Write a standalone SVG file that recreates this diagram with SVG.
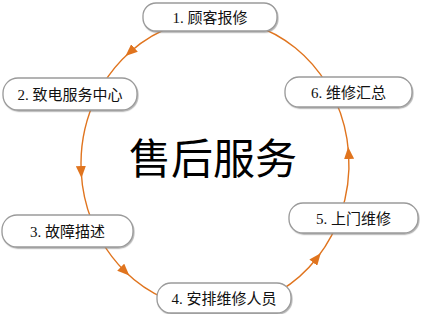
<svg xmlns="http://www.w3.org/2000/svg" width="424" height="314" viewBox="0 0 424 314">
<defs>
<style>
.conn{fill:none;stroke:#e0741e;stroke-width:1.4;marker-mid:url(#arr)}
.box{fill:#fff;stroke:#9a9a9a;stroke-width:1.3;filter:url(#sh)}
.lbl{font-family:"Liberation Serif","Noto Sans CJK SC",serif;font-size:15px;fill:#111;text-anchor:middle}
.title{font-family:"Noto Sans CJK SC",sans-serif;font-size:42px;fill:#000;text-anchor:middle}
</style>
<marker id="arr" viewBox="0 0 12 10" refX="6" refY="5" markerWidth="12" markerHeight="10" markerUnits="userSpaceOnUse" orient="auto">
<path d="M0,0 L12,5 L0,10 Z" fill="#e0741e"/>
</marker>
<filter id="sh" x="-10%" y="-20%" width="120%" height="150%">
<feDropShadow dx="0.8" dy="1.2" stdDeviation="0.6" flood-color="#808080" flood-opacity="0.6"/>
</filter>
</defs>
<rect width="424" height="314" fill="#fff"/>
<g id="connectors">
<path class="conn" d="M176.9,25 A134,145 0 0 0 130,52 A134,145 0 0 0 102.6,85"/>
<path class="conn" d="M93,104 A134,145 0 0 0 81.2,172 A134,145 0 0 0 91.8,221"/>
<path class="conn" d="M100.9,240 A134,145 0 0 0 125,271.4 A134,145 0 0 0 165,298.5"/>
<path class="conn" d="M280,290.8 A134,145 0 0 0 317,258 A134,145 0 0 0 342.1,210"/>
<path class="conn" d="M340.4,215 A134,145 0 0 0 348.6,153 A134,145 0 0 0 335.2,100"/>
<path class="conn" style="marker-mid:none" d="M327.4,85 A134,145 0 0 0 253.1,25"/>
</g>
<g id="n1"><rect class="box" x="143" y="3" width="134" height="28" rx="13"/><text class="lbl" x="210" y="22.5">1. 顾客报修</text></g>
<g id="n2"><rect class="box" x="3" y="78" width="134" height="32" rx="15"/><text class="lbl" x="70" y="99.5">2. 致电服务中心</text></g>
<g id="n3"><rect class="box" x="2" y="215" width="131" height="32" rx="15"/><text class="lbl" x="67.5" y="236.5">3. 故障描述</text></g>
<g id="n4"><rect class="box" x="157" y="283" width="134" height="30" rx="14"/><text class="lbl" x="224" y="303.5">4. 安排维修人员</text></g>
<g id="n5"><rect class="box" x="289" y="203" width="129" height="30" rx="14"/><text class="lbl" x="353.5" y="223.5">5. 上门维修</text></g>
<g id="n6"><rect class="box" x="285" y="77" width="127" height="30" rx="14"/><text class="lbl" x="348.5" y="97.5">6. 维修汇总</text></g>
<g id="title"><text class="title" x="213" y="174">售后服务</text></g>
</svg>
